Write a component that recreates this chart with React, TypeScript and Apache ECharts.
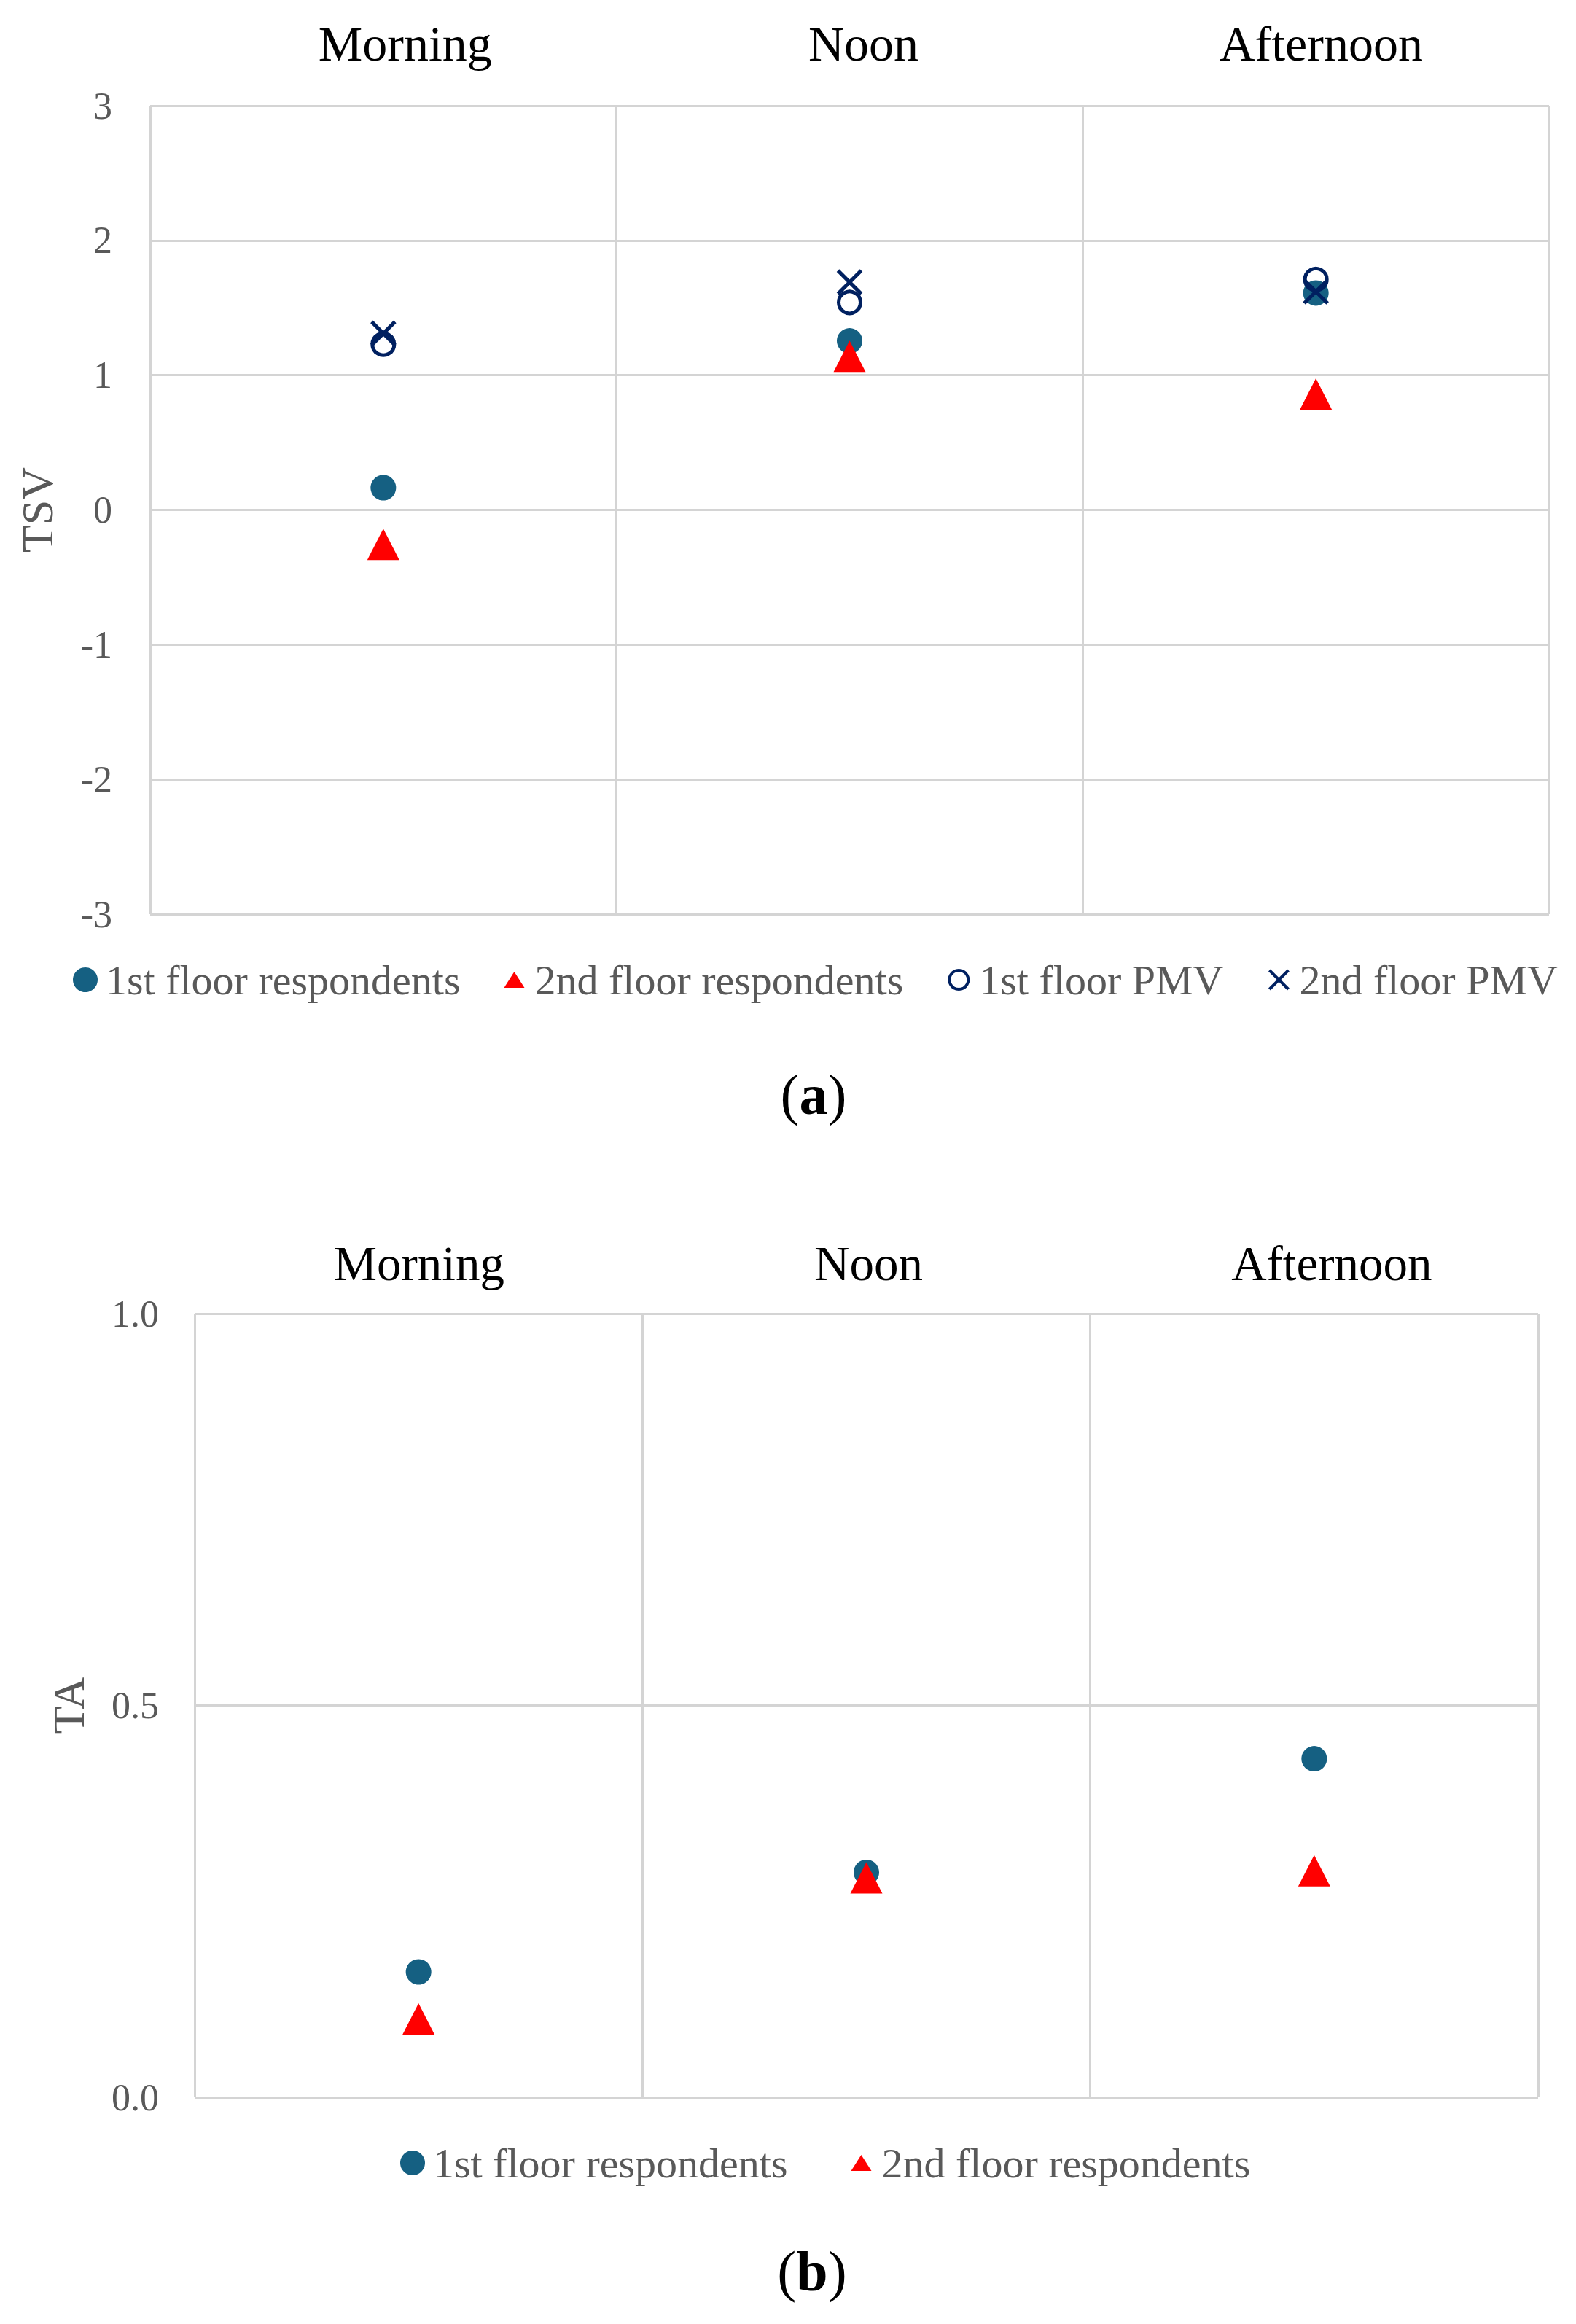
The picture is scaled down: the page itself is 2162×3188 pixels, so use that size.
import React, { useEffect, useRef } from "react";
import * as echarts from "echarts";

// ---------- data ----------
const categories = ["Morning", "Noon", "Afternoon"];

// Panel (a): TSV
const tsvFloor1Respondents = [0.165, 1.255, 1.61];
const tsvFloor2Respondents = [-0.255, 1.14, 0.86];
const tsvFloor1PMV = [1.23, 1.54, 1.71];
const tsvFloor2PMV = [1.31, 1.69, 1.62];
const tsvAxis = { min: -3, max: 3, interval: 1 };

// Panel (b): TA
const taFloor1Respondents = [0.16, 0.287, 0.432];
const taFloor2Respondents = [0.1, 0.28, 0.289];
const taAxis = { min: 0, max: 1, interval: 0.5 };

const seriesNames = [
  "1st floor respondents",
  "2nd floor respondents",
  "1st floor PMV",
  "2nd floor PMV",
];

// ---------- styles ----------
const SERIF = "'Liberation Serif', 'Times New Roman', serif";
const TEAL = "#156082";
const RED = "#FF0000";
const NAVY = "#002060";
const GRID_LINE = "#D4D4D4";
const GRAY_TEXT = "#595959";
const X_PATH = "path://M0,0L10,10M10,0L0,10";
const LEGEND_TRIANGLE = "path://M0,0M34,34M17,6L31,28L3,28Z";
// spacer before each heading (moves the centred heading right by half of it)
const headingSpacerA = [60, 38, 14];
const headingSpacerB = [1, 6, 48];

function xAxisFor(gridIndex: number, margin: number, fontSize: number, spacers: number[]) {
  const rich: Record<string, any> = {
    t: { fontFamily: SERIF, fontSize, color: "#000000", verticalAlign: "middle" },
  };
  spacers.forEach((w, i) => {
    rich["s" + i] = { width: w, fontFamily: SERIF, fontSize, verticalAlign: "middle" };
  });
  return {
    type: "category",
    gridIndex,
    position: "top",
    data: categories,
    boundaryGap: true,
    axisLine: { show: false },
    axisTick: { show: false, interval: 0 },
    axisLabel: {
      interval: 0,
      hideOverlap: false,
      color: "#000000",
      fontFamily: SERIF,
      fontSize,
      margin,
      verticalAlign: "middle",
      formatter: (v: string, i: number) => `{s${i}|\u00a0}{t|${v}}`,
      rich,
    },
    splitLine: { show: true, interval: 0, lineStyle: { color: GRID_LINE, width: 3 } },
  };
}

function yAxisFor(
  gridIndex: number,
  ax: { min: number; max: number; interval: number },
  name: string,
  nameGap: number,
  labelMargin: number,
  decimals: number
) {
  return {
    type: "value",
    gridIndex,
    min: ax.min,
    max: ax.max,
    interval: ax.interval,
    name,
    nameLocation: "middle",
    nameRotate: 90,
    nameGap,
    nameTextStyle: { color: GRAY_TEXT, fontFamily: SERIF, fontSize: 62 },
    axisLine: { show: false },
    axisTick: { show: false },
    axisLabel: {
      color: GRAY_TEXT,
      fontFamily: SERIF,
      fontSize: 52,
      margin: labelMargin,
      formatter: (v: number) => v.toFixed(decimals),
    },
    splitLine: { show: true, lineStyle: { color: GRID_LINE, width: 3 } },
  };
}

function resp1(data: number[], gi: number) {
  return {
    name: seriesNames[0],
    type: "scatter",
    xAxisIndex: gi,
    yAxisIndex: gi,
    data,
    symbol: "circle",
    symbolSize: 35,
    itemStyle: { color: TEAL, opacity: 1 },
    z: 2,
  };
}
function resp2(data: number[], gi: number) {
  return {
    name: seriesNames[1],
    type: "scatter",
    xAxisIndex: gi,
    yAxisIndex: gi,
    data,
    symbol: "triangle",
    symbolSize: [44, 43],
    itemStyle: { color: RED, opacity: 1 },
    z: 3,
  };
}

const legendText = {
  color: GRAY_TEXT,
  fontFamily: SERIF,
  fontSize: 58,
  lineHeight: 60,
  padding: [0, 0, 0, 6],
};

const legendItems = [
  { name: seriesNames[0], icon: "circle", itemStyle: { color: TEAL, borderWidth: 0, opacity: 1 } },
  { name: seriesNames[1], icon: LEGEND_TRIANGLE, itemStyle: { color: RED, borderWidth: 0, opacity: 1 } },
  {
    name: seriesNames[2],
    icon: "path://M0,0M34,34M17,4A13,13,0,1,1,16.99,4Z",
    itemStyle: { color: "rgba(0,0,0,0)", borderColor: NAVY, borderWidth: 4, opacity: 1 },
  },
  {
    name: seriesNames[3],
    icon: "path://M0,0M34,34M4,4L30,30M30,4L4,30",
    itemStyle: { color: "rgba(0,0,0,0)", borderColor: NAVY, borderWidth: 4, opacity: 1 },
  },
];

function panelLabel(letter: string, x: number, y: number) {
  return {
    type: "text",
    x,
    y,
    style: {
      text: `{p|(}{b|${letter}}{p|)}`,
      align: "center",
      verticalAlign: "middle",
      rich: {
        p: { fontFamily: SERIF, fontSize: 78, fill: "#000000" },
        b: { fontFamily: SERIF, fontSize: 78, fontWeight: "bold", fill: "#000000" },
      },
    },
  };
}

export default function App() {
  const ref = useRef<HTMLDivElement>(null);

  useEffect(() => {
    document.body.style.margin = "0";
    document.body.style.overflow = "hidden";
    if (!ref.current) return;
    const chart = echarts.init(ref.current, undefined, { renderer: "svg" });
    chart.setOption({
      animation: false,
      backgroundColor: "#FFFFFF",
      grid: [
        { left: 206, top: 145, width: 1919, height: 1109, containLabel: false, outerBoundsMode: "none" },
        { left: 267, top: 1802, width: 1843, height: 1075, containLabel: false, outerBoundsMode: "none" },
      ],
      xAxis: [xAxisFor(0, 85, 68, headingSpacerA), xAxisFor(1, 69, 67, headingSpacerB)],
      yAxis: [
        yAxisFor(0, tsvAxis, "TSV", 124, 52, 0),
        yAxisFor(1, taAxis, "TA", 142, 49, 1),
      ],
      legend: [
        {
          left: 95,
          top: 1309,
          orient: "horizontal",
          itemGap: 57,
          itemWidth: 34,
          itemHeight: 34,
          selectedMode: false,
          textStyle: legendText,
          data: legendItems,
        },
        {
          left: 544,
          top: 2932,
          orient: "horizontal",
          itemGap: 84,
          itemWidth: 34,
          itemHeight: 34,
          selectedMode: false,
          textStyle: legendText,
          data: legendItems.slice(0, 2),
        },
      ],
      series: [
        resp1(tsvFloor1Respondents, 0),
        resp2(tsvFloor2Respondents, 0),
        {
          name: seriesNames[2],
          type: "scatter",
          xAxisIndex: 0,
          yAxisIndex: 0,
          data: tsvFloor1PMV,
          symbol: "circle",
          symbolSize: 30,
          itemStyle: { color: "rgba(0,0,0,0)", borderColor: NAVY, borderWidth: 5, opacity: 1 },
          z: 4,
        },
        {
          name: seriesNames[3],
          type: "scatter",
          xAxisIndex: 0,
          yAxisIndex: 0,
          data: tsvFloor2PMV,
          symbol: X_PATH,
          symbolSize: 32,
          itemStyle: { color: "rgba(0,0,0,0)", borderColor: NAVY, borderWidth: 5, opacity: 1 },
          z: 5,
        },
        resp1(taFloor1Respondents, 1),
        resp2(taFloor2Respondents, 1),
      ],
      graphic: [panelLabel("a", 1116, 1501), panelLabel("b", 1114, 3115)],
    });
    return () => chart.dispose();
  }, []);

  return <div ref={ref} style={{ width: 2162, height: 3188 }} />;
}
